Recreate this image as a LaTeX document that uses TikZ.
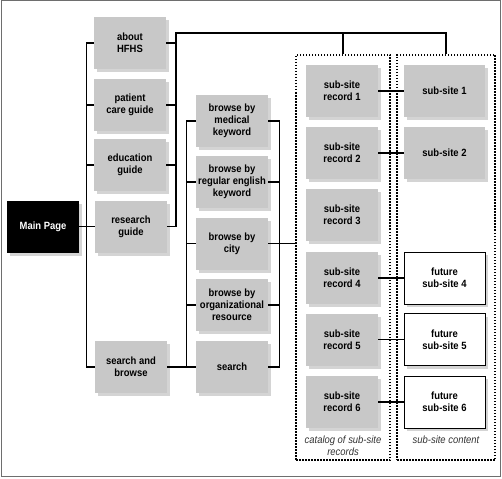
\documentclass[tikz,border=0pt]{standalone}
\usepackage{fontspec}
\setmainfont{Liberation Sans}[FakeStretch=0.9]
\usetikzlibrary{shadows}
\definecolor{boxgray}{RGB}{200,200,200}
\definecolor{shadegray}{RGB}{170,170,170}
\definecolor{framegray}{RGB}{110,110,110}

\begin{document}
\begin{tikzpicture}
[
    x=1pt, y=-1pt,
    pagebox/.style={fill=boxgray, minimum width=72pt, minimum height=52pt, inner sep=1pt, align=center,
        font=\bfseries\fontsize{10.5}{12}\selectfont,
        drop shadow={shadow xshift=3pt, shadow yshift=-3pt, fill=shadegray}},
    future/.style={pagebox, fill=white, draw=black, line width=0.6pt, minimum width=81pt},
    mainpage/.style={pagebox, fill=black, text=white},
    group/.style={draw=black, line width=1.3pt, dash pattern=on 1.5pt off 1.5pt},
    link/.style={draw=black, line width=1.2pt},
    caption/.style={align=center, text=black!80, font=\itshape\fontsize{10.5}{12}\selectfont},
]
\useasboundingbox (0,0) rectangle (502,478);
\draw[framegray, line width=1pt] (1,1) rectangle (500,476);

\node[group, minimum width=94pt, minimum height=405pt] (catalog) at (343,257.5) {};
\node[group, minimum width=98pt, minimum height=405pt] (contentframe) at (446,257.5) {};

\node[mainpage] (main) at (43,226.5) {Main Page};
\node[pagebox] (about) at (130,43) {about\\HFHS};
\node[pagebox] (patient) at (130,105) {patient\\care guide};
\node[pagebox] (education) at (130,165) {education\\guide};
\node[pagebox] (research) at (131,226.5) {research\\guide};
\node[pagebox] (searchbrowse) at (131,367) {search and\\browse};

\node[pagebox] (medical) at (232,121) {browse by\\medical\\keyword};
\node[pagebox] (english) at (232,182) {browse by\\regular english\\keyword};
\node[pagebox] (city) at (232,243.5) {browse by\\city};
\node[pagebox] (orgres) at (232,305) {browse by\\organizational\\resource};
\node[pagebox] (search) at (232,367) {search};

\foreach \i/\y in {1/91,2/153,3/214.5,4/278,5/339.5,6/402}
    \node[pagebox] (record\i) at (342,\y) {sub-site\\record \i};
\node[pagebox, minimum width=81pt] (site1) at (444.5,91) {sub-site 1};
\node[pagebox, minimum width=81pt] (site2) at (444.5,153) {sub-site 2};
\foreach \i/\y in {4/278,5/339.5,6/402}
    \node[future] (site\i) at (444.5,\y) {future\\sub-site \i};

\node[caption] (catalogtext) at (343,446) {catalog of sub-site\\records};
\node[caption] (contenttext) at (446,440) {sub-site content};

\draw[link] (main) -- (research);
\draw[link] (about.west) -- +(-7,0) |- (searchbrowse.west);
\foreach \n in {patient,education}
    \draw[link] (\n.west) -- +(-7,0);

\coordinate (bustop) at (176,33);
\draw[link] (research.east) -| (bustop) -| (contentframe.north);
\draw[link] (bustop -| catalog.north) -- (catalog.north);
\foreach \n in {about,patient,education}
    \draw[link] (\n.east) -- (\n.east -| bustop);

\draw[link] (searchbrowse) -- (search);
\draw[link] (medical.west) -- +(-9,0) |- (search.west);
\foreach \n in {english,city,orgres}
    \draw[link] (\n.west) -- +(-9,0);
\draw[link] (medical.east) -- +(11,0) |- (search.east);
\foreach \n in {english,city,orgres}
    \draw[link] (\n.east) -- +(11,0);
\draw[link] (city.east) -- (city.east -| catalog.west);

\foreach \i in {1,2,4,5,6}
    \draw[link] (record\i) -- (site\i);
\end{tikzpicture}
\end{document}
